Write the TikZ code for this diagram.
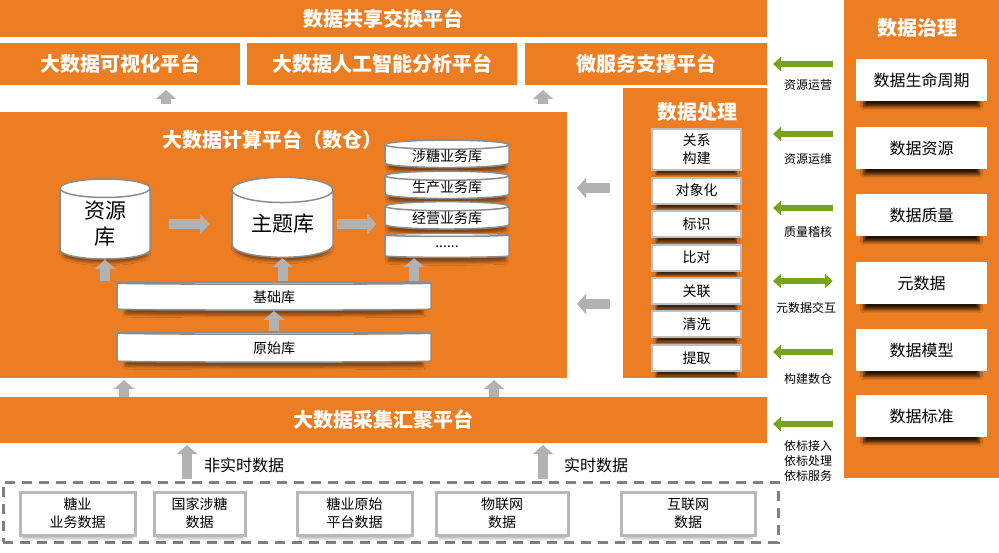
\documentclass[tikz,border=0pt]{standalone}
\usepackage{fontspec}
\setmainfont{Noto Sans CJK SC}
\usetikzlibrary{shapes.geometric,arrows.meta,shadows.blur}
\definecolor{orng}{RGB}{237,125,34}
\definecolor{grn}{RGB}{120,163,30}
\definecolor{arrgray}{RGB}{178,178,178}

\begin{document}
\begin{tikzpicture}[x=1pt, y=-1pt, every node/.style={inner sep=0pt, align=center},
	plat/.style={fill=orng, text=white, font=\bfseries\fontsize{20}{24}\selectfont},
	ptitle/.style={text=white, font=\bfseries\fontsize{20}{24}\selectfont},
	govbox/.style={fill=white, minimum width=131, minimum height=42, font=\fontsize{16}{20}\selectfont,
		blur shadow={shadow xshift=0pt, shadow yshift=-9pt, shadow scale=0.88, shadow opacity=85, shadow blur radius=4pt}},
	procbox/.style={fill=white, draw=black!25, line width=2pt, minimum width=89, minimum height=26, font=\fontsize{14}{18}\selectfont,
		blur shadow={shadow xshift=0pt, shadow yshift=-7pt, shadow scale=0.9, shadow opacity=75, shadow blur radius=3pt}},
	srcbox/.style={fill=white, draw=black!28, line width=3pt, minimum height=43, font=\fontsize{14}{18}\selectfont,
		blur shadow={shadow xshift=0pt, shadow yshift=-5pt, shadow scale=0.95, shadow opacity=30, shadow blur radius=3pt}},
	db/.style={cylinder, shape border rotate=90, draw=black!45, line width=1.5pt, fill=white,
		blur shadow={shadow xshift=0pt, shadow yshift=-6pt, shadow scale=0.95, shadow opacity=45, shadow blur radius=3pt}},
	flatdb/.style={db, aspect=0.13, minimum width=124, font=\fontsize{14}{18}\selectfont},
	garrow/.style={arrgray, line width=10pt, >={Triangle[width=20pt,length=9pt]}, ->},
	grarrow/.style={grn, line width=6pt, >={Triangle[width=14pt,length=8pt]}, ->},
	lbl/.style={font=\fontsize{12}{15}\selectfont}]
	\useasboundingbox (0,0) rectangle (999,552);

	\node[plat, minimum width=767, minimum height=37] (share) at (383.5,18.5) {数据共享交换平台};
	\node[plat, minimum width=240, minimum height=42] (vis) at (120,64) {大数据可视化平台};
	\node[plat, minimum width=270, minimum height=42] (ai) at (382,64) {大数据人工智能分析平台};
	\node[plat, minimum width=242, minimum height=42] (micro) at (646,64) {微服务支撑平台};
	\node[plat, minimum width=567, minimum height=266] (calc) at (283.5,245) {};
	\node[ptitle] (calct) at (272,140) {大数据计算平台（数仓）};
	\node[plat, minimum width=144, minimum height=290] (proc) at (695,233) {};
	\node[ptitle] (proct) at (697,112) {数据处理};
	\node[plat, minimum width=155, minimum height=478] (gov) at (921.5,239) {};
	\node[ptitle] (govt) at (917,28) {数据治理};
	\node[plat, minimum width=767, minimum height=46] (collect) at (383.5,420) {大数据采集汇聚平台};

	\node[db, aspect=0.44, minimum width=90, minimum height=80, font=\fontsize{21}{26}\selectfont] (ziyuan) at (105,224) {资源\\库};
	\node[db, aspect=0.4, minimum width=101, minimum height=80, font=\fontsize{21}{26}\selectfont] (zhuti) at (282.5,224) {主题库};
	\foreach \n/\y/\h/\t in {1/156.5/27/涉糖业务库, 2/187.5/25/生产业务库, 3/218/24/经营业务库}
		\node[flatdb, minimum height=\h] (yw\n) at (447,\y) {\t};
	\node[flatdb, minimum height=24] (yw4) at (447,246.5) {......};
	\node[db, aspect=0.05, minimum width=314, minimum height=28, font=\fontsize{14}{18}\selectfont] (jichu) at (274,297) {基础库};
	\node[db, aspect=0.05, minimum width=314, minimum height=30, font=\fontsize{14}{18}\selectfont] (yuanshi) at (274,348) {原始库};

	\node[procbox, minimum height=41] (p1) at (696.5,149.5) {关系\\构建};
	\foreach \n/\y/\t in {2/190.5/对象化, 3/224/标识, 4/257.5/比对, 5/291/关联, 6/324/清洗, 7/358/提取}
		\node[procbox] (p\n) at (696.5,\y) {\t};

	\foreach \n/\y/\t in {1/80/数据生命周期, 2/148/数据资源, 3/215/数据质量, 4/283/元数据, 5/350/数据模型, 6/416/数据标准}
		\node[govbox] (g\n) at (921.5,\y) {\t};

	\node[draw=black!50, line width=3pt, dash pattern=on 10pt off 7pt, minimum width=775, minimum height=60] (src) at (390.5,512) {};
	\foreach \n/\x/\w/\t in {1/77.5/115/糖业\\业务数据, 2/199.5/91/国家涉糖\\数据, 3/354.5/115/糖业原始\\平台数据, 4/502/132/物联网\\数据, 5/688/134/互联网\\数据}
		\node[srcbox, minimum width=\w] (s\n) at (\x,513.5) {\t};

	\coordinate (u1) at (166,90);
	\coordinate (u2) at (543,90);
	\coordinate (l1) at (577,188);
	\coordinate (l2) at (577,304);
	\coordinate (c1) at (124,380);
	\coordinate (c2) at (494,380);
	\coordinate (b1) at (187,445);
	\coordinate (b2) at (543,445);
	\coordinate (ywin) at ([xshift=-33pt]yw4.south);

	\path[garrow, shorten <=8pt] (calc.north -| u1) edge (u1) (calc.north -| u2) edge (u2);
	\path[garrow, shorten <=13pt] (proc.west |- l1) edge (l1) (proc.west |- l2) edge (l2);
	\path[garrow] (collect.north -| c1) edge (c1) (collect.north -| c2) edge (c2);
	\path[garrow, shorten <=2pt] (src.north -| b1) edge (b1) (src.north -| b2) edge (b2);
	\path[garrow] (jichu.north -| ziyuan.south) edge (ziyuan.south)
		(jichu.north -| zhuti.south) edge (zhuti.south)
		(jichu.north -| ywin) edge (ywin)
		(yuanshi.north) edge (jichu.south);
	\path[garrow, shorten <=18pt, shorten >=22pt] (ziyuan.east) edge (zhuti.west);
	\path[garrow, shorten <=3pt, shorten >=8pt] (zhuti.east) edge (zhuti.east -| yw3.west);

	\node[anchor=west, font=\fontsize{16}{20}\selectfont] (nrt) at (204,465) {非实时数据};
	\node[anchor=west, font=\fontsize{16}{20}\selectfont] (rt) at (564,465) {实时数据};

	\foreach \n/\y/\ly/\t in {1/64/85/资源运营, 2/134/159/资源运维, 3/208/232/质量稽核, 5/352/379/构建数仓, 6/424/461/依标接入\\依标处理\\依标服务} {
		\coordinate (ge\n) at (773,\y);
		\path[grarrow, shorten <=11pt] (gov.west |- ge\n) edge (ge\n);
		\node[lbl] (gl\n) at (808,\ly) {\t};
	}
	\coordinate (ge4) at (773,281);
	\path[grarrow, shorten <=11pt, <->] (gov.west |- ge4) edge (ge4);
	\node[lbl] (gl4) at (806,308) {元数据交互};
\end{tikzpicture}
\end{document}
